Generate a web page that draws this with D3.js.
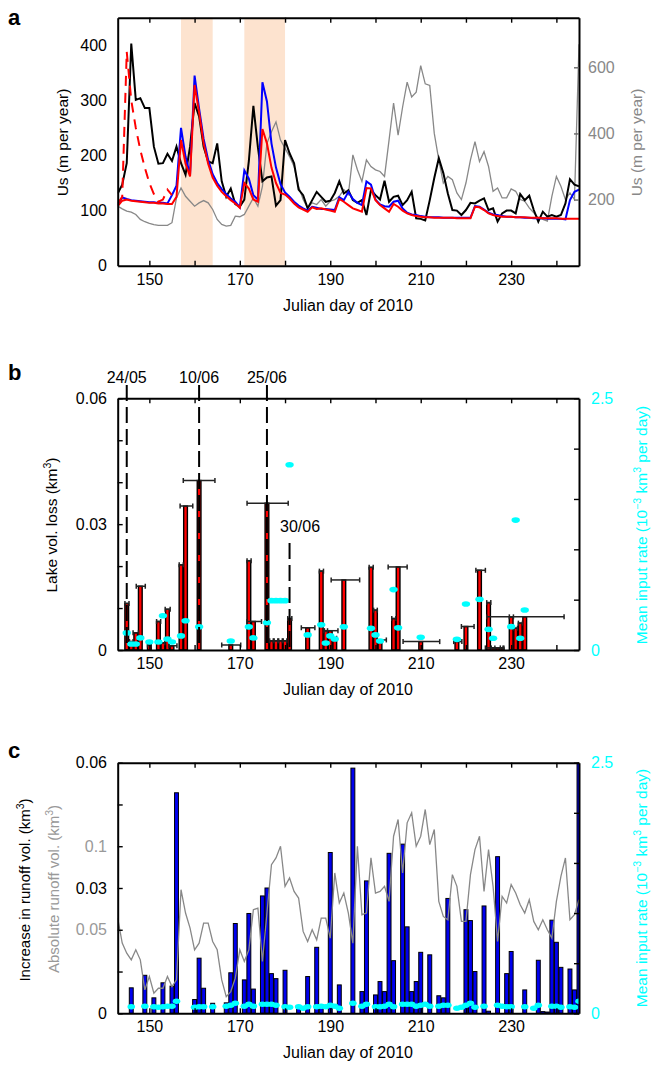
<!DOCTYPE html>
<html>
<head>
<meta charset="utf-8">
<script src="https://cdn.jsdelivr.net/npm/d3@7"></script>
<style>
  body { margin: 0; background: #fff; }
  svg text { font-family: "Liberation Sans", Arial, Helvetica, sans-serif; }
</style>
</head>
<body>
<svg id="fig" width="652" height="1067"></svg>
<script>
// ---- DATA ----
// panel a: daily surface velocity, days 143..245
const firstDay = 143;
const usBlack = [131, 147, 186, 403, 301, 304, 286,
  286, 216, 185, 186, 203, 190, 216, 186, 165, 216,
  295, 271, 216, 189, 186, 222, 153, 125, 140, 112,
  107, 120, 190, 290, 215, 153, 160, 162, 109, 119,
  228, 204, 186, 138, 128, 104, 119, 134, 125, 116,
  118, 132, 153, 131, 137, 119, 114, 119, 92, 137,
  128, 120, 154, 116, 125, 127, 110, 119, 134, 86,
  85, 82, 119, 159, 195, 168, 131, 101, 100, 92,
  101, 114, 113, 118, 122, 101, 104, 80, 95, 100,
  100, 95, 130, 119, 127, 101, 80, 98, 89, 92,
  89, 92, 113, 157, 147, 144];
const usBlue = [110, 124, 121, 119, 118, 117, 116,
  115, 115, 114, 114, 113, 128, 145, 250, 198, 165,
  345, 285, 230, 192, 166, 150, 139, 130, 122, 116,
  106, 173, 158, 128, 120, 333, 298, 222, 178, 148,
  133, 125, 116, 109, 104, 100, 107, 105, 103, 103,
  102, 101, 124, 119, 134, 121, 114, 110, 153, 147,
  120, 111, 108, 107, 116, 118, 104, 96, 93, 92,
  90, 89, 88, 88, 88, 87, 87, 87, 87, 87,
  87, 87, 108, 107, 102, 96, 93, 92, 90, 89,
  89, 88, 88, 87, 87, 86, 86, 86, 85, 85,
  85, 85, 84, 119, 134, 138];
const usRed = [108, 118, 120, 118, 117, 116, 115,
  114, 114, 113, 113, 112, 112, 125, 228, 185, 162,
  328, 278, 222, 185, 160, 145, 134, 126, 119, 113,
  105, 150, 140, 120, 116, 248, 222, 178, 150, 132,
  129, 122, 113, 106, 102, 98, 106, 103, 104, 102,
  100, 98, 121, 116, 110, 104, 101, 98, 141, 140,
  119, 110, 104, 98, 112, 107, 100, 95, 92, 90,
  89, 88, 88, 87, 87, 87, 87, 87, 86, 86,
  86, 86, 107, 106, 101, 95, 92, 90, 89, 89,
  89, 88, 88, 88, 87, 87, 87, 86, 86, 86,
  86, 85, 85, 85, 85, 85];
const usRedDashed = [113, 125, 388, 300, 250, 210, 178, 150, 130, 116, 120, 138, 128];
const usGray = [180, 172, 165, 162, 155, 140, 133,
  128, 124, 122, 122, 122, 130, 205, 235, 210, 195,
  180, 190, 197, 190, 170, 140, 125, 120, 122, 150,
  148, 155, 180, 205, 180, 240, 370, 405, 435, 380,
  355, 330, 300, 240, 200, 175, 190, 185, 200, 180,
  195, 200, 210, 230, 215, 335, 290, 255, 320, 300,
  290, 285, 270, 380, 492, 395, 480, 555, 510, 525,
  605, 550, 545, 400, 320, 250, 270, 260, 220, 200,
  250, 320, 375, 315, 345, 300, 225, 235, 205, 205,
  232, 225, 200, 195, 175, 160, 145, 140, 135, 210,
  270, 240, 200, 220, 200, 670];
const shadeStart = [157, 171];
const shadeEnd = [164, 180];

// panel b: lake drainage events
const lakeDay = [145, 146, 147, 148, 150, 152, 153, 154, 155, 157, 158, 161, 168, 172, 173,
  176, 177, 178, 179, 180, 181, 185, 188, 189, 190, 191, 193, 199, 200, 201, 204, 205,
  210, 218, 220, 223, 225, 226, 227, 228, 230, 231, 232, 233];
const lakeLoss = [0.0111, 0.0020, 0.0041, 0.0152, 0.0012, 0.0068, 0.0017, 0.0097, 0.0010,
  0.0203, 0.0343, 0.0404, 0.0012, 0.0213, 0.0068, 0.0350, 0.0022, 0.0022, 0.0022, 0.0022,
  0.0075, 0.0053, 0.0188, 0.0046, 0.0046, 0.0028, 0.0167, 0.0197, 0.0095, 0.0024, 0.0075,
  0.0198, 0.0020, 0.0020, 0.0056, 0.0190, 0.0113, 0.0005, 0.0005, 0.0005, 0.0079, 0.0052,
  0.0064, 0.0079];
const errLo = [144.6, 145.6, 146.4, 147.1, 149.6, 151.6, 152.6, 153.5, 154.3, 156.6, 156.8,
  157.5, 166.0, 171.6, 171.6, 171.6, 176.6, 177.6, 178.6, 179.6, 180.6, 183.6, 187.6, 188.6,
  188.7, 190.6, 190.2, 198.6, 199.6, 200.3, 203.6, 202.8, 206.1, 217.3, 219.0, 222.2, 224.6,
  225.6, 224.3, 227.6, 229.6, 230.6, 231.6, 224.6];
const errHi = [145.5, 146.4, 147.6, 149.1, 150.4, 152.5, 153.4, 154.6, 156.1, 157.5, 159.6,
  164.5, 170.2, 172.5, 174.8, 180.7, 177.4, 178.4, 179.4, 180.4, 181.5, 186.6, 188.5, 189.4,
  191.7, 191.4, 196.5, 199.5, 200.4, 202.4, 204.5, 207.0, 214.2, 219.1, 221.8, 224.3, 225.5,
  226.4, 228.2, 228.4, 230.5, 231.4, 232.5, 241.7];
const inDayB = [145, 146, 147, 148, 150, 152, 153, 154, 155, 157, 158, 161, 168, 172, 173,
  176, 177, 178, 179, 180, 181, 185, 188, 189, 190, 191, 193, 199, 200, 201, 204, 205, 210,
  218, 220, 223, 225, 226, 230, 231, 232, 233];
const inRateB = [0.17, 0.06, 0.06, 0.12, 0.08, 0.08, 0.34, 0.11, 0.08, 0.14, 0.29, 0.23, 0.09,
  0.23, 0.12, 0.27, 0.49, 0.49, 0.49, 0.49, 1.84, 0.15, 0.25, 0.07, 0.14, 0.11, 0.23, 0.215,
  0.15, 0.09, 0.6, 0.22, 0.126, 0.106, 0.457, 0.503, 0.205, 0.116, 0.232, 1.29, 0.116, 0.397];
const dateDay = [145, 161, 176, 181];
const dateLabel = ["24/05", "10/06", "25/06", "30/06"];

// panel c: runoff
const runDay = [146, 149, 151, 153, 155, 156, 160, 161, 162, 164, 167, 168, 169, 171, 172,
  173, 175, 176, 177, 178, 180, 183, 185, 187, 188, 190, 192, 195, 197, 198, 200, 201, 202,
  203, 204, 206, 207, 208, 209, 210, 212, 214, 215, 216, 220, 221, 222, 224, 225, 227, 229,
  230, 233, 236, 237, 238, 239, 240, 241, 243, 244, 245];
const runInc = [0.0061, 0.0091, 0.0037, 0.0073, 0.0065, 0.0528, 0.0033, 0.0132, 0.0060,
  0.0024, 0.0025, 0.0097, 0.0215, 0.0080, 0.0239, 0.0058, 0.0281, 0.0300, 0.0095, 0.0083,
  0.0103, 0.0015, 0.0088, 0.0158, 0.0020, 0.0385, 0.0068, 0.0587, 0.0052, 0.0317, 0.0044,
  0.0076, 0.0052, 0.0383, 0.0126, 0.0405, 0.0207, 0.0052, 0.0076, 0.0146, 0.0140, 0.0042,
  0.0037, 0.0275, 0.0248, 0.0222, 0.0100, 0.0257, 0.0005, 0.0375, 0.0095, 0.0148, 0.0056,
  0.0127, 0.0004, 0.0003, 0.0223, 0.0170, 0.0110, 0.0106, 0.0056, 0.0600];
const runAbs = [0.057, 0.042, 0.036, 0.032, 0.038, 0.032, 0.014,
  0.022, 0.012, 0.015, 0.015, 0.022, 0.016, 0.020, 0.074, 0.060, 0.051,
  0.038, 0.042, 0.054, 0.054, 0.043, 0.038, 0.020, 0.010, 0.013, 0.021,
  0.038, 0.031, 0.038, 0.062, 0.063, 0.031, 0.060, 0.089, 0.093, 0.100,
  0.076, 0.081, 0.073, 0.069, 0.049, 0.043, 0.050, 0.044, 0.057, 0.057,
  0.045, 0.084, 0.066, 0.072, 0.060, 0.042, 0.100, 0.059, 0.060, 0.093,
  0.072, 0.073, 0.076, 0.067, 0.106, 0.116, 0.084, 0.114, 0.120, 0.100,
  0.106, 0.122, 0.101, 0.110, 0.067, 0.058, 0.056, 0.083, 0.076, 0.055,
  0.055, 0.083, 0.098, 0.106, 0.073, 0.098, 0.076, 0.043, 0.070, 0.066,
  0.077, 0.072, 0.065, 0.060, 0.068, 0.055, 0.050, 0.056, 0.050, 0.045,
  0.067, 0.082, 0.093, 0.056, 0.059, 0.068];
const inDayC = [146, 149, 151, 152, 153, 154, 155, 156, 160, 161, 162, 164, 167, 168, 169,
  171, 172, 173, 175, 176, 177, 178, 180, 181, 183, 184, 185, 187, 188, 189, 190, 191, 192,
  195, 197, 198, 200, 201, 202, 203, 204, 206, 207, 208, 209, 210, 211, 212, 214, 215, 216,
  218, 219, 220, 221, 222, 224, 227, 228, 229, 230, 233, 235, 236, 239, 240, 241, 243, 244, 245];
const inRateC = [0.066, 0.07, 0.066, 0.06, 0.066, 0.07, 0.07, 0.12, 0.06, 0.066, 0.066, 0.066,
  0.07, 0.08, 0.10, 0.07, 0.09, 0.07, 0.09, 0.09, 0.09, 0.08, 0.066, 0.06, 0.066, 0.05, 0.066,
  0.066, 0.07, 0.066, 0.08, 0.07, 0.05, 0.10, 0.07, 0.09, 0.066, 0.066, 0.07, 0.09, 0.066,
  0.09, 0.09, 0.09, 0.07, 0.08, 0.09, 0.07, 0.07, 0.08, 0.08, 0.05, 0.06, 0.08, 0.10, 0.06,
  0.07, 0.08, 0.07, 0.066, 0.066, 0.066, 0.05, 0.08, 0.07, 0.07, 0.06, 0.066, 0.06, 0.12];

// ---- LAYOUT ----
const svg = d3.select("#fig");
const left = 117.7, right = 579;
const panelA = { top: 17.7, bottom: 265.7 };
const panelB = { top: 398.3, bottom: 650 };
const panelC = { top: 762.7, bottom: 1013.3 };
const cyan = "#00ffff";

const x = d3.scaleLinear().domain([143, 245]).range([left, right]);
const dayTicks = [150, 160, 170, 180, 190, 200, 210, 220, 230, 240];
const day = (v, i) => firstDay + i;
const plain = d => String(d);

function clip(id, p) {
  svg.append("clipPath").attr("id", id).append("rect")
    .attr("x", left).attr("y", p.top).attr("width", right - left).attr("height", p.bottom - p.top);
}

function styleAxis(g, color) {
  g.attr("font-size", 16);
  g.select(".domain").attr("stroke", "#000").attr("stroke-width", 2);
  g.selectAll(".tick line").attr("stroke", "#000").attr("stroke-width", 1.4);
  g.selectAll(".tick text").attr("fill", color || "#000");
}

function dayAxes(p) {
  let g = svg.append("g").attr("transform", `translate(0,${p.bottom})`)
    .call(d3.axisBottom(x).tickValues(dayTicks).tickFormat(d => (d - 150) % 20 === 0 ? d : "")
      .tickSize(-5).tickSizeOuter(0).tickPadding(7.5));
  styleAxis(g);
  g = svg.append("g").attr("transform", `translate(0,${p.top})`)
    .call(d3.axisTop(x).tickValues(dayTicks).tickFormat("").tickSize(-5).tickSizeOuter(0));
  styleAxis(g);
  svg.append("text").attr("x", 348).attr("y", p.bottom + 45).attr("text-anchor", "middle")
    .attr("font-size", 16).text("Julian day of 2010");
}

// rotated title; parts beginning with ^ are superscripts
function vTitle(cx, cy, parts, color, size) {
  const t = svg.append("text").attr("transform", `translate(${cx},${cy}) rotate(-90)`)
    .attr("text-anchor", "middle").attr("font-size", size || 15.5).attr("fill", color);
  let up = false;
  parts.forEach(s => {
    const sp = t.append("tspan");
    if (s[0] === "^") {
      sp.text(s.slice(1)).attr("font-size", 10.5).attr("dy", up ? 0 : -6);
      up = true;
    } else {
      sp.text(s).attr("dy", up ? 6 : 0);
      up = false;
    }
  });
}

function letter(t, y) {
  svg.append("text").attr("x", 8).attr("y", y).attr("font-size", 22)
    .attr("font-weight", "bold").text(t);
}

// ================= PANEL a =================
const yA = d3.scaleLinear().domain([0, 450]).range([panelA.bottom, panelA.top]);
const yA2 = d3.scaleLinear().domain([0, 750]).range([panelA.bottom, panelA.top]);
clip("clipA", panelA);

svg.append("g").selectAll("rect").data(shadeStart).join("rect")
  .attr("x", d => x(d)).attr("width", (d, i) => x(shadeEnd[i]) - x(d))
  .attr("y", panelA.top).attr("height", panelA.bottom - panelA.top)
  .attr("fill", "#fde3cf");

const gA = svg.append("g").attr("clip-path", "url(#clipA)").attr("fill", "none");
const lineA = d3.line().x((d, i) => x(day(d, i))).y(d => yA(d));
gA.append("path").datum(usGray)
  .attr("d", d3.line().x((d, i) => x(day(d, i))).y(d => yA2(d)))
  .attr("stroke", "#888").attr("stroke-width", 1.3);
gA.append("path").datum(usBlack).attr("d", lineA).attr("stroke", "#000").attr("stroke-width", 2);
gA.append("path").datum(usBlue).attr("d", lineA).attr("stroke", "#0000ff").attr("stroke-width", 2);
gA.append("path").datum(usRed).attr("d", lineA).attr("stroke", "#ff0000").attr("stroke-width", 2);
gA.append("path").datum(usRedDashed).attr("d", lineA).attr("stroke", "#ff0000")
  .attr("stroke-width", 2).attr("stroke-dasharray", "10,7");

dayAxes(panelA);
let ax = svg.append("g").attr("transform", `translate(${left},0)`)
  .call(d3.axisLeft(yA).tickValues([0, 100, 200, 300, 400]).tickFormat(plain)
    .tickSize(0).tickSizeOuter(0).tickPadding(10.7));
styleAxis(ax);
ax = svg.append("g").attr("transform", `translate(${right},0)`)
  .call(d3.axisRight(yA2).tickValues([200, 400, 600]).tickFormat(plain)
    .tickSize(-5).tickSizeOuter(0).tickPadding(9));
styleAxis(ax, "#888");
ax.selectAll(".tick line").attr("stroke", "#666");
vTitle(68, 142.5, ["Us (m per year)"], "#000");
vTitle(641.5, 142.5, ["Us (m per year)"], "#888");
letter("a", 25);

// ================= PANEL b =================
const yB = d3.scaleLinear().domain([0, 0.06]).range([panelB.bottom, panelB.top]);
const yBr = d3.scaleLinear().domain([0, 2.5]).range([panelB.bottom, panelB.top]);
clip("clipB", panelB);
const gB = svg.append("g").attr("clip-path", "url(#clipB)");

gB.selectAll("rect.bar").data(lakeDay).join("rect").attr("class", "bar")
  .attr("x", d => x(d - 0.5) + 0.4).attr("width", d => x(d + 0.5) - x(d - 0.5) - 0.8)
  .attr("y", (d, i) => yB(lakeLoss[i])).attr("height", (d, i) => panelB.bottom - yB(lakeLoss[i]))
  .attr("fill", "#ff0000").attr("stroke", "#000").attr("stroke-width", 1.4);

const errG = gB.append("g").attr("stroke", "#222").attr("stroke-width", 1.5);
lakeDay.forEach((d, i) => {
  const yy = yB(lakeLoss[i]);
  errG.append("line").attr("x1", x(errLo[i])).attr("x2", x(errHi[i])).attr("y1", yy).attr("y2", yy);
  [errLo[i], errHi[i]].forEach(e => errG.append("line")
    .attr("x1", x(e)).attr("x2", x(e)).attr("y1", yy - 2.5).attr("y2", yy + 2.5));
});

// dashed date markers (last one starts lower, label inside the plot)
const dateTop = [385, 385, 385, 543];
const dateLabelPos = [{ dx: 0, y: 383 }, { dx: 0, y: 383 }, { dx: 0, y: 383 }, { dx: 10.5, y: 531.5 }];
dateDay.forEach((d, i) => {
  svg.append("line").attr("x1", x(d)).attr("x2", x(d)).attr("y1", dateTop[i]).attr("y2", panelB.bottom)
    .attr("stroke", "#000").attr("stroke-width", 2).attr("stroke-dasharray", "16,6");
  svg.append("text").attr("x", x(d) + dateLabelPos[i].dx).attr("y", dateLabelPos[i].y)
    .attr("text-anchor", "middle").attr("font-size", 16).text(dateLabel[i]);
});

gB.selectAll("ellipse").data(inDayB).join("ellipse")
  .attr("cx", d => x(d)).attr("cy", (d, i) => yBr(inRateB[i]))
  .attr("rx", 4.2).attr("ry", 2.8).attr("fill", cyan);

dayAxes(panelB);
ax = svg.append("g").attr("transform", `translate(${left},0)`)
  .call(d3.axisLeft(yB).tickValues([0, 0.01, 0.02, 0.03, 0.04, 0.05, 0.06])
    .tickFormat(d => (d === 0 || d === 0.03 || d === 0.06) ? String(d) : "")
    .tickSize(-5).tickSizeOuter(0).tickPadding(10.7));
styleAxis(ax);
ax = svg.append("g").attr("transform", `translate(${right},0)`)
  .call(d3.axisRight(yBr).tickValues([0, 0.5, 1, 1.5, 2, 2.5])
    .tickFormat(d => (d === 0 || d === 2.5) ? String(d) : "").tickSize(-5).tickSizeOuter(0).tickPadding(12));
styleAxis(ax, cyan);
vTitle(57, 525, ["Lake vol. loss (km", "^3", ")"], "#000");
vTitle(646.5, 525, ["Mean input rate (10", "^\u22123", " km", "^3", " per day)"], cyan);
letter("b", 380);

// ================= PANEL c =================
const yC = d3.scaleLinear().domain([0, 0.06]).range([panelC.bottom, panelC.top]);
const yCg = d3.scaleLinear().domain([0, 0.15]).range([panelC.bottom, panelC.top]);
const yCr = d3.scaleLinear().domain([0, 2.5]).range([panelC.bottom, panelC.top]);
clip("clipC", panelC);
const gC = svg.append("g").attr("clip-path", "url(#clipC)");

gC.selectAll("rect.bar").data(runDay).join("rect").attr("class", "bar")
  .attr("x", d => x(d - 0.5) + 0.3).attr("width", d => x(d + 0.5) - x(d - 0.5) - 0.6)
  .attr("y", (d, i) => yC(runInc[i])).attr("height", (d, i) => panelC.bottom - yC(runInc[i]))
  .attr("fill", "#0000ee").attr("stroke", "#000").attr("stroke-width", 1);

gC.append("path").datum(runAbs)
  .attr("d", d3.line().x((d, i) => x(day(d, i))).y(d => yCg(d)))
  .attr("fill", "none").attr("stroke", "#888").attr("stroke-width", 1.3);

gC.selectAll("ellipse").data(inDayC).join("ellipse")
  .attr("cx", d => x(d)).attr("cy", (d, i) => yCr(inRateC[i]))
  .attr("rx", 3.8).attr("ry", 2.7).attr("fill", cyan);

dayAxes(panelC);
ax = svg.append("g").attr("transform", `translate(${left},0)`)
  .call(d3.axisLeft(yC).tickValues([0, 0.01, 0.02, 0.03, 0.04, 0.05, 0.06])
    .tickFormat(d => (d === 0 || d === 0.03 || d === 0.06) ? String(d) : "")
    .tickSize(-5).tickSizeOuter(0).tickPadding(10.7));
styleAxis(ax);
ax = svg.append("g").attr("transform", `translate(${left},0)`)
  .call(d3.axisLeft(yCg).tickValues([0.05, 0.1]).tickFormat(plain).tickSize(0).tickPadding(10.7));
styleAxis(ax, "#999");
ax.select(".domain").remove();
ax = svg.append("g").attr("transform", `translate(${right},0)`)
  .call(d3.axisRight(yCr).tickValues([0, 0.5, 1, 1.5, 2, 2.5])
    .tickFormat(d => (d === 0 || d === 2.5) ? String(d) : "").tickSize(-5).tickSizeOuter(0).tickPadding(12));
styleAxis(ax, cyan);
vTitle(30, 890, ["Increase in runoff vol. (km", "^3", ")"], "#000", 15);
vTitle(58.5, 889, ["Absolute runoff vol. (km", "^3", ")"], "#999", 15);
vTitle(646.5, 888, ["Mean input rate (10", "^\u22123", " km", "^3", " per day)"], cyan);
letter("c", 758);
</script>
</body>
</html>
